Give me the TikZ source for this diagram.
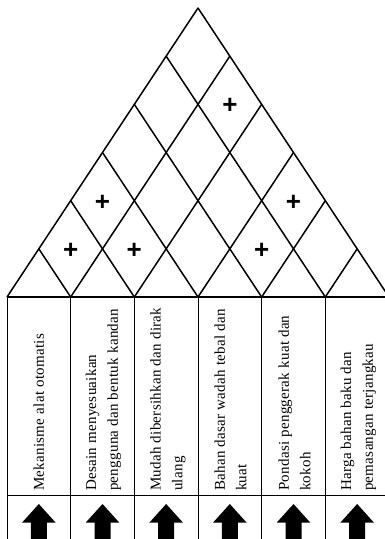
\documentclass[tikz,border=0pt]{standalone}
\usepackage{fontspec}
\setmainfont{Liberation Serif}[LetterSpace=2]
\setsansfont{Liberation Sans}
\usetikzlibrary{calc}

\begin{document}
\begin{tikzpicture}[x=1pt,y=-1pt,line join=round,
                    roof/.style={line width=1.5pt},
                    cell/.style={line width=1pt},
                    corr/.style={font=\sffamily\bfseries\fontsize{26}{26}\selectfont,inner sep=0pt},
                    whatlabel/.style={rotate=90,anchor=west,align=left,inner sep=0pt,
                                      font=\fontsize{15}{21.7}\selectfont}]
  \useasboundingbox (0,0) rectangle (385,539);
  \coordinate (L) at (7,297);
  \coordinate (A) at (198,8);
  \coordinate (R) at (389,297);

  % roof
  \draw[roof] (L) -- (A) -- (R);
  \foreach \k in {1,...,5}{
    \draw[roof] ($(L)!\k/6!(R)$) -- ($(R)!{(6-\k)/6}!(A)$);
    \draw[roof] ($(L)!\k/6!(R)$) -- ($(L)!\k/6!(A)$);
  }

  % correlations
  \node[corr] (p12) at (70.7,251)  {+};
  \node[corr] (p23) at (134.3,251) {+};
  \node[corr] (p13) at (102.5,203) {+};
  \node[corr] (p45) at (261.7,251) {+};
  \node[corr] (p46) at (293.5,203) {+};
  \node[corr] (p26) at (230,106)   {+};

  % table
  \foreach \k in {0,...,6}
    \draw[cell] ($(L)!\k/6!(R)$) -- ++(0,260);
  \draw[cell] (7,495) -- (389,495);
  \draw[line width=2.6pt] (L) -- (R);

  \begin{scope}
    \clip (7,299) rectangle (389,495);
    \node[whatlabel] (req1) at (38.8,491)  {Mekanisme alat otomatis};
    \node[whatlabel] (req2) at (103.5,491) {Desain menyesuaikan\\pengguna dan bentuk kandan};
    \node[whatlabel] (req3) at (168,491)   {Mudah dibersihkan dan dirak\\ulang};
    \node[whatlabel] (req4) at (230.5,491) {Bahan dasar wadah tebal dan\\kuat};
    \node[whatlabel] (req5) at (294.5,491) {Pondasi penggerak kuat dan\\kokoh};
    \node[whatlabel] (req6) at (358.5,491) {Harga bahan baku dan\\pemasangan terjangkau};
  \end{scope}

  % improvement arrows
  \foreach \k in {1,...,6}
    \fill ($(L)!{(\k-0.5)/6}!(R)$) ++(0,207) -- ++(16.7,18.5) -- ++(-8.7,0) -- ++(0,20)
      -- ++(-16,0) -- ++(0,-20) -- ++(-8.7,0) -- cycle;
\end{tikzpicture}
\end{document}
